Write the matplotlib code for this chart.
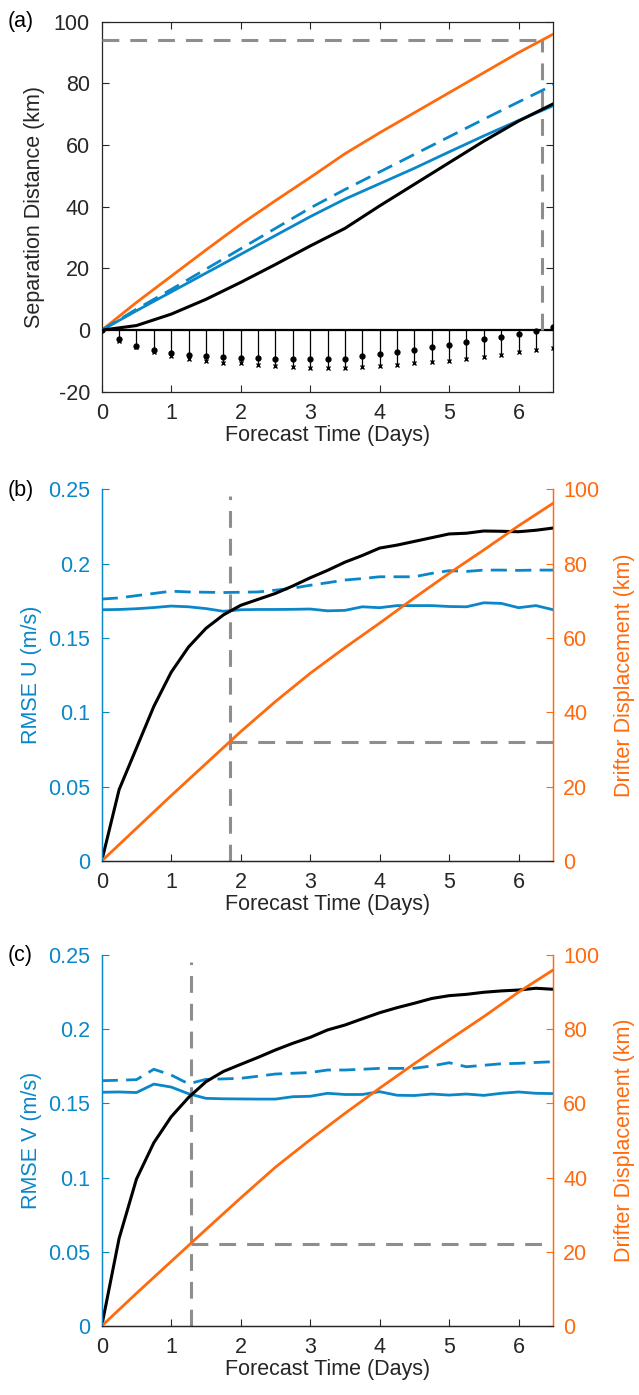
import matplotlib
matplotlib.use("Agg")
import matplotlib.pyplot as plt

plt.rcParams["font.family"] = ["Liberation Sans", "DejaVu Sans"]
plt.rcParams["font.size"] = 15.5
plt.rcParams["axes.unicode_minus"] = False

BLUE = "#0a87c9"
ORANGE = "#ff6a0d"
GRAY = "#8e8e8e"
AXC = "#262626"

# ── data ─────────────────────────────────────────────────────
days_q = [0, 0.25, 0.5, 0.75, 1.0, 1.25, 1.5, 1.75, 2.0, 2.25, 2.5, 2.75, 3.0,
          3.25, 3.5, 3.75, 4.0, 4.25, 4.5, 4.75, 5.0, 5.25, 5.5, 5.75, 6.0,
          6.25, 6.5]
days_h = [0, 0.5, 1.0, 1.5, 2.0, 2.5, 3.0, 3.5, 4.0, 4.5, 5.0, 5.5, 6.0, 6.5]

# (a) separation distance (km)
sep_orange = [0, 9.0, 17.5, 26.0, 34.3, 42.0, 49.5, 57.2, 64.0, 70.5, 77.0, 83.5, 90.0, 96.0]
sep_blue_dash = [0, 6.8, 13.2, 19.8, 26.4, 33.0, 39.6, 45.6, 51.3, 57.0, 62.7, 68.4, 74.0, 79.5]
sep_blue = [0, 6.3, 12.4, 18.5, 24.6, 30.7, 36.8, 42.5, 47.5, 52.5, 57.8, 63.0, 68.0, 72.8]
sep_black = [0, 1.5, 5.2, 10.0, 15.5, 21.3, 27.3, 33.0, 40.3, 47.3, 54.3, 61.3, 67.8, 73.4]
diff_dot = [0, -2.8, -5.0, -6.4, -7.4, -8.1, -8.5, -8.8, -8.9, -9.1, -9.4, -9.4, -9.4,
            -9.3, -9.2, -8.5, -7.8, -7.1, -6.5, -5.6, -4.8, -3.7, -2.8, -2.3, -1.2,
            -0.4, 1.0]
diff_x = [0, -3.4, -5.6, -7.0, -8.4, -9.5, -10.1, -10.5, -10.8, -11.3, -11.7, -11.9,
          -12.2, -12.4, -12.4, -12.0, -11.7, -11.4, -10.8, -10.4, -10.1, -9.5, -8.8,
          -8.0, -7.1, -6.5, -5.8]
sep_mark_t, sep_mark_km = 6.34, 94.0

# (b) RMSE U
u_black = [0, 0.048, 0.076, 0.104, 0.127, 0.144, 0.1565, 0.1655, 0.172, 0.176, 0.180,
           0.185, 0.1905, 0.1955, 0.201, 0.2055, 0.2105, 0.2125, 0.215, 0.2175, 0.220,
           0.2205, 0.222, 0.2218, 0.2215, 0.2225, 0.224]
u_blue = [0.169, 0.1692, 0.1697, 0.1705, 0.1715, 0.171, 0.1698, 0.168, 0.169, 0.1692,
          0.1692, 0.1693, 0.1695, 0.1683, 0.1686, 0.171, 0.1704, 0.1718, 0.1718, 0.1718,
          0.1712, 0.171, 0.1737, 0.1733, 0.1704, 0.1718, 0.169]
u_blue_dash = [0.1762, 0.177, 0.1785, 0.18, 0.1815, 0.181, 0.1808, 0.1806, 0.1808, 0.181,
               0.1822, 0.1835, 0.1855, 0.1872, 0.189, 0.19, 0.1912, 0.1912, 0.1912,
               0.1935, 0.1953, 0.1948, 0.1957, 0.1957, 0.1955, 0.1957, 0.1957]
u_disp = [0, 8.8, 17.6, 26.2, 34.8, 42.9, 50.5, 57.4, 64.0, 70.8, 77.4, 83.7, 90.2, 96.3]
u_mark_t, u_mark_km = 1.84, 31.9

# (c) RMSE V
v_black = [0, 0.059, 0.099, 0.1235, 0.141, 0.154, 0.1646, 0.1715, 0.1763, 0.181, 0.186,
           0.1905, 0.1945, 0.1995, 0.2028, 0.207, 0.2111, 0.2145, 0.2175, 0.2207, 0.2226,
           0.2235, 0.2249, 0.2258, 0.2264, 0.2276, 0.2269]
v_blue = [0.1575, 0.1577, 0.1573, 0.163, 0.161, 0.1565, 0.1534, 0.1531, 0.153, 0.1529,
          0.1529, 0.1545, 0.1548, 0.1568, 0.156, 0.156, 0.1579, 0.1555, 0.1553, 0.1563,
          0.1556, 0.1563, 0.1554, 0.1568, 0.1577, 0.1568, 0.1566]
v_blue_dash = [0.1653, 0.1656, 0.166, 0.173, 0.1691, 0.1632, 0.1662, 0.1665, 0.1669,
               0.1683, 0.1698, 0.1703, 0.1708, 0.1725, 0.1725, 0.173, 0.1736, 0.1736,
               0.1737, 0.1752, 0.1774, 0.1747, 0.1757, 0.1767, 0.177, 0.1776, 0.1781]
v_disp = [0, 8.8, 17.4, 26.0, 34.5, 42.8, 50.2, 57.3, 64.1, 70.7, 77.1, 83.4, 90.0, 96.0]
v_mark_t, v_mark_km = 1.29, 22.0

xticks = [0, 1, 2, 3, 4, 5, 6]
rmse_ticks = [0, 0.05, 0.1, 0.15, 0.2, 0.25]
rmse_labels = ["0", "0.05", "0.1", "0.15", "0.2", "0.25"]
km_ticks = [0, 20, 40, 60, 80, 100]

GDASH = (0, (5.5, 3.6))
BDASH = (0, (5.8, 3.0))
LW = 2.0


def style_x(ax):
    ax.set_xlim(0, 6.5)
    ax.set_xticks(xticks)
    ax.set_xlabel("Forecast Time (Days)", color=AXC, labelpad=1)
    ax.tick_params(axis="x", direction="in", length=5, colors=AXC, pad=8)


fig = plt.figure(figsize=(6.39, 13.95), dpi=100)

# ── (a) ──────────────────────────────────────────────────────
ax = fig.add_axes([0.1592, 0.7191, 0.7067, 0.2653])
for t, d, x in zip(days_q, diff_dot, diff_x):
    ax.plot([t, t], [0, min(d, x)], color="black", lw=0.9, zorder=2)
ax.plot(days_q, diff_dot, "o", color="black", ms=3.5, zorder=3)
ax.plot(days_q, diff_x, "x", color="black", ms=3.5, mew=1.0, zorder=3)
ax.axhline(0, color="black", lw=1.6, zorder=2)
ax.plot([0, sep_mark_t], [sep_mark_km, sep_mark_km], color=GRAY, lw=2.2, ls=GDASH, zorder=4)
ax.plot([sep_mark_t, sep_mark_t], [0, sep_mark_km], color=GRAY, lw=2.2, ls=GDASH, zorder=4)
ax.plot(days_h, sep_orange, color=ORANGE, lw=LW, zorder=5)
ax.plot(days_h, sep_blue_dash, color=BLUE, lw=LW, ls=BDASH, zorder=5)
ax.plot(days_h, sep_blue, color=BLUE, lw=LW, zorder=5)
ax.plot(days_h, sep_black, color="black", lw=2.2, zorder=6)
style_x(ax)
ax.set_ylim(-20, 100)
ax.set_yticks([-20, 0, 20, 40, 60, 80, 100])
ax.set_ylabel("Separation Distance (km)", color=AXC, labelpad=6)
ax.tick_params(axis="y", direction="in", length=5, colors=AXC, pad=8.5)
ax.tick_params(top=True, right=True)
for s in ax.spines.values():
    s.set_color(AXC)
    s.set_linewidth(0.9)


def rmse_panel(rect, black, blue, blue_dash, disp, mark_t, mark_km, ylabel):
    ax = fig.add_axes(rect)
    ax2 = ax.twinx()
    ax.plot([mark_t, mark_t], [0, 0.2455], color=GRAY, lw=2.2, ls=GDASH, zorder=1)
    ax.plot(days_q, blue_dash, color=BLUE, lw=LW, ls=BDASH, zorder=2)
    ax.plot(days_q, blue, color=BLUE, lw=LW, zorder=2)
    ax.plot(days_q, black, color="black", lw=2.2, zorder=3)
    ax2.plot([mark_t, 6.5], [mark_km, mark_km], color=GRAY, lw=2.2, ls=GDASH)
    ax2.plot(days_h, disp, color=ORANGE, lw=LW)
    style_x(ax)
    ax.set_ylim(0, 0.25)
    ax.set_yticks(rmse_ticks)
    ax.set_yticklabels(rmse_labels)
    ax.set_ylabel(ylabel, color=BLUE, labelpad=4)
    ax.tick_params(axis="y", direction="in", length=5, colors=BLUE, pad=8.5)
    ax2.set_ylim(0, 100)
    ax2.set_yticks(km_ticks)
    ax2.set_ylabel("Drifter Displacement (km)", color=ORANGE, labelpad=11)
    ax2.tick_params(axis="y", direction="in", length=5, colors=ORANGE, pad=7)
    for a in (ax, ax2):
        a.spines["top"].set_visible(False)
        a.spines["left"].set_color(BLUE)
        a.spines["right"].set_color(ORANGE)
        a.spines["bottom"].set_color(AXC)
        for s in a.spines.values():
            s.set_linewidth(0.9)
    return ax


rmse_panel([0.1592, 0.3828, 0.7067, 0.2664], u_black, u_blue, u_blue_dash, u_disp,
           u_mark_t, u_mark_km, "RMSE U (m/s)")
rmse_panel([0.1592, 0.0495, 0.7067, 0.2659], v_black, v_blue, v_blue_dash, v_disp,
           v_mark_t, v_mark_km, "RMSE V (m/s)")

fig.text(0.012, 0.9845, "(a)", color="black", va="center")
fig.text(0.012, 0.6487, "(b)", color="black", va="center")
fig.text(0.012, 0.3152, "(c)", color="black", va="center")

fig.savefig("out.png", dpi=100)
